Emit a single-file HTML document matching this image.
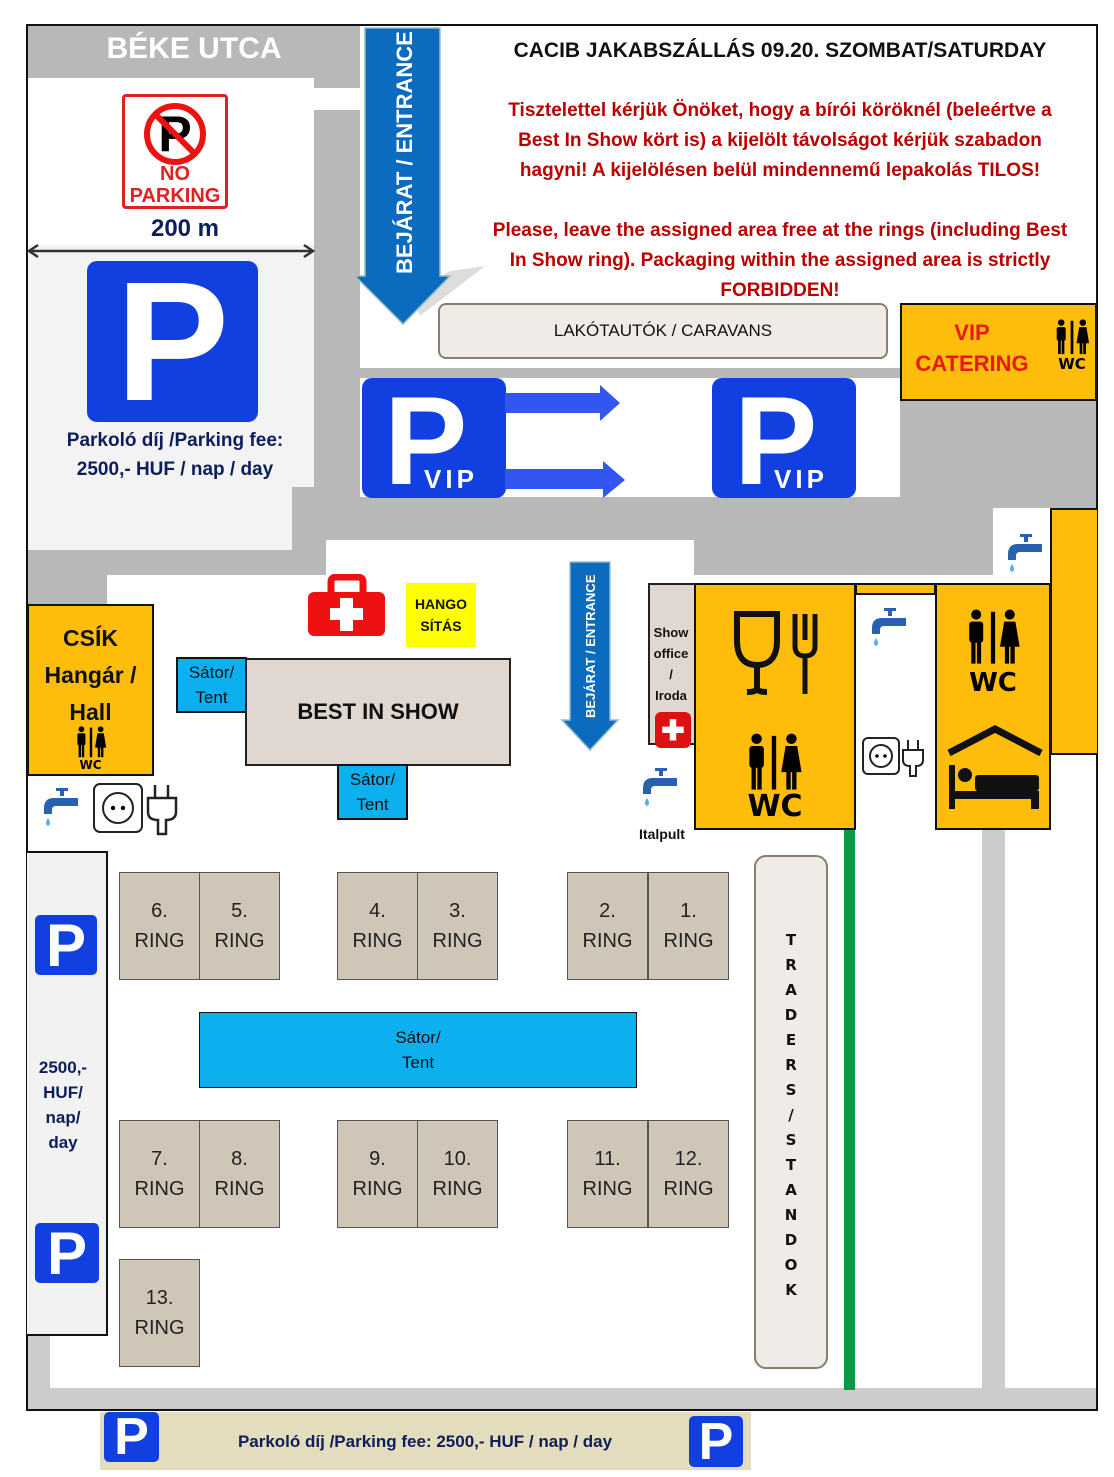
<!DOCTYPE html>
<html><head><meta charset="utf-8">
<style>
*{margin:0;padding:0;box-sizing:border-box}
body{width:1114px;height:1477px;background:#fff;position:relative;overflow:hidden;font-family:"Liberation Sans",sans-serif;font-weight:bold}
.a{position:absolute}
.g{background:#b8b8b8}
.w{background:#fff}
.c{display:flex;align-items:center;justify-content:center;text-align:center}
.ring{position:absolute;background:#cfc6b8;border:1.5px solid #555;font-size:20px;color:#222;line-height:30px;font-weight:normal;display:flex;align-items:center;justify-content:center;text-align:center;width:81px;height:108px}
.pbig{position:absolute;background:#1240e0;border-radius:10px;color:#fff;display:flex;align-items:center;justify-content:center}
.yel{position:absolute;background:#fdbd0a;border:2px solid #111}
.tent{position:absolute;background:#0cb0ef;border:2px solid #111;font-size:17px;color:#111;line-height:25px;display:flex;align-items:center;justify-content:center;text-align:center;font-weight:normal}
.red{color:#b00;font-size:19px;text-align:center;line-height:30px}
</style></head><body>
<svg width="0" height="0" style="position:absolute"><defs>
<symbol id="wc" viewBox="0 0 40 40"><circle cx="8" cy="4" r="3.6"/><rect x="3" y="9" width="10" height="15" rx="2"/><rect x="4.5" y="22" width="3" height="17"/><rect x="8.5" y="22" width="3" height="17"/><rect x="18.5" y="2" width="3" height="37"/><circle cx="32" cy="4" r="3.6"/><path d="M28 9 H36 L39 27 H25Z"/><rect x="28.5" y="26" width="3" height="13"/><rect x="32.5" y="26" width="3" height="13"/></symbol>
<symbol id="tap" viewBox="0 0 44 44"><rect x="18" y="2" width="12" height="3" fill="#2960b0"/><rect x="22" y="4" width="4" height="6" fill="#2960b0"/><path d="M6 22 Q6 12 16 12 H40 V20 H18 Q14 20 14 24 V28 H6Z" fill="#2960b0"/><path d="M10 32 Q6 38 10 40 Q14 38 10 32Z" fill="#55aef0"/></symbol>
</defs></svg>
<!-- frame -->
<div class="a g" style="left:27px;top:25px;width:1070px;height:580px"></div>
<div class="a w" style="left:28px;top:78px;width:286px;height:170px"></div>
<div class="a" style="left:28px;top:245px;width:286px;height:242px;background:#f3f3f3"></div>
<div class="a" style="left:28px;top:486px;width:264px;height:64px;background:#f3f3f3"></div>
<div class="a w" style="left:314px;top:88px;width:46px;height:22px"></div>
<div class="a w" style="left:360px;top:26px;width:737px;height:342px"></div>
<div class="a w" style="left:360px;top:378px;width:540px;height:119px"></div>
<div class="a w" style="left:326px;top:540px;width:368px;height:50px"></div>
<div class="a w" style="left:107px;top:575px;width:990px;height:815px"></div>
<div class="a w" style="left:28px;top:775px;width:80px;height:615px"></div>
<div class="a w" style="left:993px;top:508px;width:57px;height:80px"></div>
<div class="a" style="left:28px;top:1388px;width:1068px;height:22px;background:#ccc"></div>
<div class="a" style="left:28px;top:1330px;width:22px;height:65px;background:#ccc"></div>
<div class="a" style="left:982px;top:830px;width:23px;height:560px;background:#ccc"></div>
<div class="a" style="left:26px;top:24px;width:1072px;height:1387px;border:2px solid #111"></div>

<div class="a" style="left:28px;top:32px;width:332px;text-align:center;color:#fff;font-size:30px">BÉKE UTCA</div>
<!-- no parking -->
<div class="a" style="left:122px;top:94px;width:106px;height:115px;border:3px solid #d22;border-radius:4px;background:#fff">
 <svg class="a" style="left:17px;top:4px" width="66" height="66" viewBox="0 0 66 66"><text x="33" y="50" font-size="50" font-family="Liberation Sans" font-weight="bold" text-anchor="middle">P</text><circle cx="33" cy="33" r="28" fill="none" stroke="#e11" stroke-width="6"/><line x1="13" y1="13" x2="53" y2="53" stroke="#e11" stroke-width="6"/></svg>
 <div class="a" style="left:0;top:66px;width:100px;text-align:center;color:#d22;font-size:20px;line-height:22px">NO<br>PARKING</div>
</div>
<div class="a" style="left:120px;top:215px;width:130px;text-align:center;color:#0e1e5a;font-size:24px">200 m</div>
<svg class="a" style="left:26px;top:243px" width="290" height="16"><line x1="4" y1="8" x2="286" y2="8" stroke="#333" stroke-width="2.5"/><path d="M12 2 L3 8 L12 14" fill="none" stroke="#333" stroke-width="2.5"/><path d="M278 2 L287 8 L278 14" fill="none" stroke="#333" stroke-width="2.5"/></svg>
<div class="pbig" style="left:87px;top:261px;width:171px;height:161px;font-size:170px;line-height:1">P</div>
<div class="a" style="left:40px;top:426px;width:270px;text-align:center;color:#0e1e5a;font-size:19px;line-height:29px">Parkoló díj /Parking fee:<br>2500,- HUF / nap / day</div>

<!-- entrance arrow -->
<svg class="a" style="left:350px;top:26px" width="150" height="300"><path d="M100 245 L135 240 L70 290 L60 270Z" fill="#ddd"/><path d="M15 2 L90 2 L90 250 L100 250 L53 298 L5 250 L15 250 Z" fill="#0b6bbf" stroke="#9bb" stroke-width="1.5"/><text transform="translate(62,248) rotate(-90)" fill="#fff" font-size="22" font-family="Liberation Sans" font-weight="bold">BEJÁRAT / ENTRANCE</text></svg>

<div class="a" style="left:470px;top:39px;width:620px;text-align:center;font-size:21px;color:#111">CACIB JAKABSZÁLLÁS 09.20. SZOMBAT/SATURDAY</div>
<div class="a red" style="left:462px;top:96px;width:636px">Tisztelettel kérjük Önöket, hogy a bírói köröknél (beleértve a<br>Best In Show kört is) a kijelölt távolságot kérjük szabadon<br>hagyni! A kijelölésen belül mindennemű lepakolás TILOS!</div>
<div class="a red" style="left:462px;top:216px;width:636px">Please, leave the assigned area free at the rings (including Best<br>In Show ring). Packaging within the assigned area is strictly<br>FORBIDDEN!</div>

<div class="a c" style="left:438px;top:303px;width:450px;height:56px;background:#efebe6;border:2.5px solid #8b7d6b;border-radius:8px;font-size:17px;font-weight:normal;color:#111">LAKÓTAUTÓK / CARAVANS</div>
<div class="yel" style="left:900px;top:303px;width:197px;height:98px">
 <div class="a" style="left:0;top:12px;width:140px;text-align:center;color:#e81818;font-size:22px;line-height:31px">VIP<br>CATERING</div>
 <svg class="a" style="left:152px;top:14px" width="36" height="36"><use href="#wc"/></svg>
 <div class="a" style="left:146px;top:50px;width:48px;text-align:center;font-size:15px;font-family:'DejaVu Sans',sans-serif">WC</div>
</div>
<!-- VIP -->
<div class="pbig" style="left:362px;top:378px;width:144px;height:120px"><span class="a" style="left:22px;top:-8px;font-size:125px">P</span><span class="a" style="left:62px;top:86px;font-size:26px;letter-spacing:4px">VIP</span></div>
<div class="pbig" style="left:712px;top:378px;width:144px;height:120px"><span class="a" style="left:22px;top:-8px;font-size:125px">P</span><span class="a" style="left:62px;top:86px;font-size:26px;letter-spacing:4px">VIP</span></div>
<svg class="a" style="left:505px;top:385px" width="125" height="115"><path d="M0 8 L95 8 L95 0 L115 18 L95 36 L95 28 L0 28Z" fill="#3356f0"/><path d="M0 84 L98 84 L98 76 L120 95 L98 113 L98 104 L0 104Z" fill="#3356f0"/></svg>
<div class="yel" style="left:1050px;top:508px;width:47px;height:247px;border-right:none"></div>

<!-- lower left -->
<div class="yel" style="left:27px;top:604px;width:127px;height:172px">
 <div class="a" style="left:0;top:14px;width:123px;text-align:center;font-size:23px;line-height:37px;color:#111">CSÍK<br>Hangár /<br>Hall</div>
 <svg class="a" style="left:46px;top:120px" width="32" height="32"><use href="#wc"/></svg>
 <div class="a" style="left:0;top:152px;width:123px;text-align:center;font-size:12px;line-height:14px;font-family:'DejaVu Sans',sans-serif">WC</div>
</div>
<!-- first aid -->
<svg class="a" style="left:307px;top:574px" width="80" height="64"><path d="M24 18 V8 Q24 3 30 3 H50 Q56 3 56 8 V18" fill="none" stroke="#e11" stroke-width="7"/><rect x="1" y="18" width="77" height="44" rx="6" fill="#e11"/><path d="M33 24 H46 V34 H56 V46 H46 V57 H33 V46 H23 V34 H33Z" fill="#fff"/></svg>
<div class="a c" style="left:406px;top:583px;width:70px;height:64px;background:#ff0;font-size:14px;line-height:22px;color:#111">HANGO<br>SÍTÁS</div>
<div class="tent" style="left:176px;top:657px;width:71px;height:56px">Sátor/<br>Tent</div>
<div class="a c" style="left:245px;top:658px;width:266px;height:108px;background:#e0d8d0;border:2.5px solid #222;font-size:22px;color:#111">BEST IN SHOW</div>
<div class="tent" style="left:337px;top:764px;width:71px;height:56px">Sátor/<br>Tent</div>

<!-- small entrance arrow -->
<svg class="a" style="left:560px;top:560px" width="60" height="195"><path d="M10 2 L50 2 L50 160 L58 160 L30 190 L2 160 L10 160Z" fill="#0b6bbf" stroke="#9bc" stroke-width="1.5"/><text transform="translate(35,158) rotate(-90)" fill="#fff" font-size="13" font-family="Liberation Sans">BEJÁRAT / ENTRANCE</text></svg>
<div class="a" style="left:648px;top:583px;width:47px;height:162px;background:#e0d8d0;border:2px solid #222;border-right:none"></div>
<div class="a" style="left:648px;top:622px;width:46px;text-align:center;font-size:13px;line-height:21px;color:#111">Show<br>office<br>/<br>Iroda</div>
<div class="a c" style="left:655px;top:712px;width:36px;height:36px;background:#d11;border-radius:6px;color:#fff;font-size:28px">✚</div>

<!-- food/wc block -->
<div class="yel" style="left:694px;top:583px;width:162px;height:247px">
 <svg class="a" style="left:35px;top:25px" width="95" height="90"><path d="M6 4 H46 V30 Q46 55 26 55 Q6 55 6 30Z" fill="none" stroke="#111" stroke-width="6"/><path d="M26 55 V78 Q26 82 16 82 M26 78 Q26 82 36 82" fill="none" stroke="#111" stroke-width="6"/><path d="M64 4 V36 Q64 46 74 46 Q84 46 84 36 V4 M74 4 V30 M74 46 V84" fill="none" stroke="#111" stroke-width="5"/></svg>
 <svg class="a" style="left:49px;top:148px" width="58" height="58"><use href="#wc"/></svg>
 <div class="a" style="left:0;top:206px;width:158px;text-align:center;font-size:30px;line-height:32px;font-family:'DejaVu Sans',sans-serif">WC</div>
</div>
<div class="a" style="left:855px;top:583px;width:81px;height:12px;background:#fdbd0a;border:2px solid #111"></div>
<div class="yel" style="left:935px;top:583px;width:116px;height:247px">
 <svg class="a" style="left:28px;top:24px" width="56" height="56"><use href="#wc"/></svg>
 <div class="a" style="left:0;top:84px;width:112px;text-align:center;font-size:26px;line-height:28px;font-family:'DejaVu Sans',sans-serif">WC</div>
 <svg class="a" style="left:8px;top:140px" width="100" height="90"><path d="M4 28 L50 4 L96 28" fill="none" stroke="#111" stroke-width="7"/><rect x="4" y="40" width="6" height="44" fill="#111"/><circle cx="20" cy="50" r="7" fill="#111"/><rect x="30" y="50" width="64" height="16" rx="3" fill="#111"/><rect x="4" y="66" width="90" height="8" fill="#111"/><rect x="86" y="66" width="8" height="18" fill="#111"/></svg>
</div>
<!-- taps -->
<svg class="a" style="left:1002px;top:532px" width="44" height="44"><use href="#tap"/></svg>
<svg class="a" style="left:866px;top:606px" width="44" height="44"><use href="#tap"/></svg>
<svg class="a" style="left:637px;top:766px" width="44" height="44"><use href="#tap"/></svg>
<svg class="a" style="left:38px;top:786px" width="44" height="44"><use href="#tap"/></svg>
<!-- sockets -->
<svg class="a" style="left:861px;top:736px" width="70" height="42"><rect x="2" y="2" width="36" height="36" rx="5" fill="#fff" stroke="#222" stroke-width="2"/><circle cx="20" cy="20" r="11" fill="none" stroke="#222" stroke-width="2"/><circle cx="16" cy="20" r="1.8"/><circle cx="24" cy="20" r="1.8"/><path d="M47 4 V14 M57 4 V14 M42 14 H62 V24 Q62 30 55 30 V40 H49 V30 Q42 30 42 24Z" fill="#fff" stroke="#222" stroke-width="2"/></svg>
<svg class="a" style="left:92px;top:782px" width="92" height="54"><rect x="2" y="2" width="48" height="48" rx="6" fill="#fff" stroke="#222" stroke-width="2"/><circle cx="26" cy="26" r="15" fill="none" stroke="#222" stroke-width="2"/><circle cx="21" cy="26" r="2.2"/><circle cx="31" cy="26" r="2.2"/><path d="M63 3 V16 M76 3 V16 M56 16 H84 V30 Q84 38 74 38 V52 H66 V38 Q56 38 56 30Z" fill="#fff" stroke="#222" stroke-width="2.5"/></svg>
<div class="a" style="left:630px;top:826px;width:64px;text-align:center;font-size:14px;color:#111">Italpult</div>

<div class="a" style="left:844px;top:830px;width:11px;height:560px;background:#0a9a44"></div>
<div class="a" style="left:754px;top:855px;width:74px;height:514px;background:#efebe6;border:2.5px solid #8b7d6b;border-radius:12px"></div>
<div class="a" style="left:754px;top:928px;width:74px;text-align:center;font-size:15px;line-height:25px;font-family:'DejaVu Sans',sans-serif;color:#111">T<br>R<br>A<br>D<br>E<br>R<br>S<br>/<br>S<br>T<br>A<br>N<br>D<br>O<br>K</div>

<!-- left parking column -->
<div class="a" style="left:27px;top:851px;width:81px;height:485px;background:#f2f2f2;border:2px solid #111;border-left:none"></div>
<div class="pbig" style="left:35px;top:915px;width:62px;height:60px;font-size:60px;border-radius:5px">P</div>
<div class="pbig" style="left:35px;top:1223px;width:64px;height:60px;font-size:60px;border-radius:5px">P</div>
<div class="a" style="left:27px;top:1055px;width:72px;text-align:center;font-size:17px;line-height:25px;color:#0e1e5a">2500,-<br>HUF/<br>nap/<br>day</div>

<!-- rings -->
<div class="ring" style="left:119px;top:872px">6.<br>RING</div>
<div class="ring" style="left:199px;top:872px">5.<br>RING</div>
<div class="ring" style="left:337px;top:872px">4.<br>RING</div>
<div class="ring" style="left:417px;top:872px">3.<br>RING</div>
<div class="ring" style="left:567px;top:872px">2.<br>RING</div>
<div class="ring" style="left:648px;top:872px">1.<br>RING</div>
<div class="tent" style="left:199px;top:1012px;width:438px;height:76px;border-width:1.5px">Sátor/<br>Tent</div>
<div class="ring" style="left:119px;top:1120px">7.<br>RING</div>
<div class="ring" style="left:199px;top:1120px">8.<br>RING</div>
<div class="ring" style="left:337px;top:1120px">9.<br>RING</div>
<div class="ring" style="left:417px;top:1120px">10.<br>RING</div>
<div class="ring" style="left:567px;top:1120px">11.<br>RING</div>
<div class="ring" style="left:648px;top:1120px">12.<br>RING</div>
<div class="ring" style="left:119px;top:1259px">13.<br>RING</div>

<!-- bottom parking -->
<div class="a" style="left:100px;top:1412px;width:651px;height:58px;background:#e3ddbd"></div>
<div class="pbig" style="left:104px;top:1412px;width:55px;height:50px;font-size:52px;border-radius:5px">P</div>
<div class="pbig" style="left:689px;top:1416px;width:54px;height:51px;font-size:52px;border-radius:5px">P</div>
<div class="a" style="left:180px;top:1432px;width:490px;text-align:center;font-size:17px;color:#0e1e5a">Parkoló díj /Parking fee: 2500,- HUF / nap / day</div>
</body></html>
